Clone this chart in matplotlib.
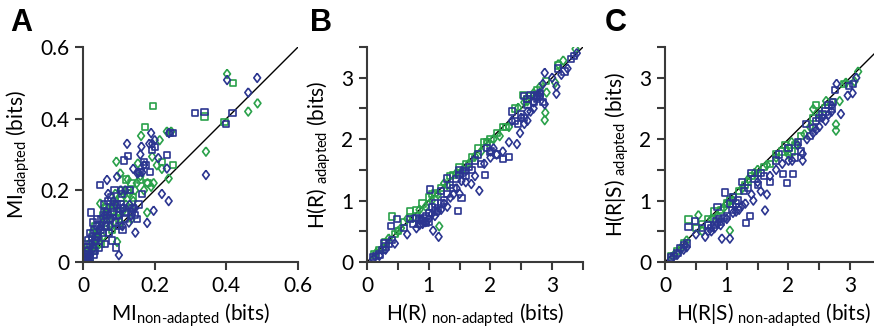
"""
Scatter adapted vs non-adapted (MI, H(R), H(R|S)), three panels.
"""
import matplotlib
matplotlib.use("Agg")
import matplotlib.pyplot as plt

BLUE = "#2b3590"
GREEN = "#2aa14a"

# ---- panel A : MI (bits) ----
a_blue_sq_x = [0.005, 0.01, 0.012, 0.018, 0.02, 0.022, 0.025, 0.03, 0.03, 0.035, 0.04, 0.045, 0.048, 0.05, 0.055,
               0.06, 0.065, 0.07, 0.075, 0.08, 0.085, 0.09, 0.093, 0.1, 0.105, 0.11, 0.115, 0.12, 0.126, 0.13,
               0.14, 0.15, 0.16, 0.165, 0.17, 0.186, 0.193, 0.2, 0.234, 0.242, 0.25, 0.313, 0.339, 0.398, 0.417,
               0.01, 0.015, 0.02, 0.028, 0.032, 0.038, 0.042, 0.05, 0.058, 0.062, 0.068, 0.072, 0.078, 0.082,
               0.088, 0.095, 0.102, 0.108, 0.112, 0.118, 0.135, 0.145, 0.155, 0.175]
a_blue_sq_y = [0.005, 0.015, 0.03, 0.01, 0.05, 0.138, 0.07, 0.02, 0.09, 0.06, 0.1, 0.04, 0.215, 0.12, 0.08,
               0.14, 0.1, 0.17, 0.12, 0.06, 0.15, 0.11, 0.04, 0.13, 0.16, 0.09, 0.283, 0.14, 0.296, 0.2,
               0.15, 0.12, 0.25, 0.19, 0.28, 0.252, 0.313, 0.32, 0.298, 0.361, 0.36, 0.415, 0.418, 0.385, 0.415,
               0.04, 0.06, 0.08, 0.11, 0.03, 0.12, 0.07, 0.09, 0.16, 0.05, 0.13, 0.08, 0.18, 0.14,
               0.2, 0.16, 0.1, 0.19, 0.15, 0.12, 0.14, 0.13, 0.16, 0.27]
a_blue_di_x = [0.005, 0.01, 0.015, 0.02, 0.03, 0.04, 0.05, 0.06, 0.067, 0.07, 0.08, 0.09, 0.095, 0.1, 0.105,
               0.11, 0.123, 0.13, 0.14, 0.146, 0.152, 0.16, 0.163, 0.17, 0.179, 0.19, 0.193, 0.197, 0.21, 0.22,
               0.234, 0.239, 0.24, 0.343, 0.402, 0.461, 0.486,
               0.008, 0.012, 0.025, 0.035, 0.045, 0.055, 0.065, 0.075, 0.085, 0.098, 0.112, 0.118, 0.128,
               0.135, 0.145, 0.155, 0.165, 0.185, 0.2]
a_blue_di_y = [0.01, 0.03, 0.005, 0.02, 0.04, 0.07, 0.1, 0.13, 0.229, 0.19, 0.12, 0.16, 0.238, 0.019, 0.2,
               0.1, 0.33, 0.16, 0.26, 0.082, 0.247, 0.3, 0.322, 0.27, 0.109, 0.36, 0.33, 0.143, 0.29, 0.19,
               0.261, 0.17, 0.36, 0.243, 0.508, 0.473, 0.514,
               0.02, 0.0, 0.05, 0.06, 0.09, 0.11, 0.14, 0.1, 0.17, 0.13, 0.15, 0.2, 0.11,
               0.13, 0.15, 0.25, 0.25, 0.33, 0.34]
a_green_sq_x = [0.005, 0.01, 0.015, 0.02, 0.025, 0.03, 0.04, 0.05, 0.06, 0.07, 0.08, 0.09, 0.1, 0.11, 0.12,
                0.13, 0.14, 0.174, 0.18, 0.195, 0.22, 0.25, 0.339, 0.395, 0.419,
                0.008, 0.018, 0.028, 0.035, 0.045, 0.055, 0.065, 0.075, 0.085, 0.095, 0.105, 0.125, 0.135, 0.16]
a_green_sq_y = [0.0, 0.02, 0.04, 0.01, 0.06, 0.03, 0.08, 0.05, 0.11, 0.14, 0.09, 0.17, 0.12, 0.2, 0.23,
                0.15, 0.18, 0.376, 0.22, 0.436, 0.28, 0.27, 0.406, 0.39, 0.499,
                0.05, 0.03, 0.08, 0.1, 0.06, 0.13, 0.15, 0.12, 0.16, 0.14, 0.18, 0.2, 0.22, 0.23]
a_green_di_x = [0.005, 0.01, 0.02, 0.03, 0.04, 0.048, 0.055, 0.06, 0.07, 0.08, 0.09, 0.093, 0.095, 0.104, 0.11,
                0.115, 0.125, 0.135, 0.15, 0.153, 0.16, 0.162, 0.179, 0.18, 0.193, 0.197, 0.206, 0.214, 0.22,
                0.234, 0.239, 0.246, 0.343, 0.402, 0.461, 0.487,
                0.015, 0.025, 0.035, 0.045, 0.065, 0.075, 0.085, 0.1, 0.105, 0.12, 0.13, 0.14, 0.145, 0.17, 0.19]
a_green_di_y = [0.01, 0.005, 0.03, 0.05, 0.08, 0.163, 0.07, 0.12, 0.15, 0.1, 0.19, 0.28, 0.056, 0.247, 0.14,
                0.187, 0.23, 0.12, 0.22, 0.275, 0.24, 0.352, 0.138, 0.22, 0.294, 0.22, 0.27, 0.34, 0.26,
                0.364, 0.233, 0.364, 0.308, 0.525, 0.42, 0.443,
                0.02, 0.04, 0.07, 0.05, 0.1, 0.13, 0.16, 0.14, 0.11, 0.16, 0.19, 0.17, 0.2, 0.2, 0.21]

# ---- panel B : H(R) (bits) ----
b_blue_sq_x = [0.1, 0.15, 0.2, 0.25, 0.27, 0.3, 0.35, 0.39, 0.4, 0.49, 0.6, 0.7, 0.75, 0.8, 0.85, 0.9, 0.95,
               1.0, 1.0, 1.02, 1.05, 1.1, 1.15, 1.2, 1.25, 1.3, 1.35, 1.4, 1.48, 1.5, 1.53, 1.55, 1.6, 1.7,
               1.75, 1.8, 1.85, 1.91, 1.95, 2.0, 2.1, 2.2, 2.3, 2.35, 2.4, 2.5, 2.55, 2.6, 2.7, 2.75, 2.8,
               2.85, 3.1, 3.2, 3.3, 3.35,
               0.85, 0.88, 0.92, 0.95, 1.1, 1.2, 1.3, 1.45, 1.5, 1.58, 1.65, 2.6, 2.65, 2.7, 2.75, 2.8, 2.55, 2.45]
b_blue_sq_y = [0.08, 0.1, 0.12, 0.2, 0.3, 0.25, 0.3, 0.58, 0.36, 0.7, 0.55, 0.7, 0.62, 0.72, 0.7, 0.66, 0.75,
               0.8, 0.65, 1.18, 0.9, 0.95, 0.88, 1.15, 1.0, 1.36, 1.25, 1.2, 0.83, 1.5, 1.04, 1.45, 1.4, 1.5,
               1.65, 1.75, 1.6, 1.42, 1.85, 1.8, 1.75, 1.68, 1.71, 2.45, 2.3, 2.4, 2.7, 2.55, 2.7, 2.65, 2.75,
               2.6, 3.15, 3.1, 3.3, 3.35,
               0.62, 0.68, 0.72, 0.64, 0.82, 0.95, 1.1, 1.35, 1.42, 1.48, 1.55, 2.65, 2.72, 2.6, 2.72, 2.68, 2.35, 2.25]
b_blue_di_x = [0.1, 0.2, 0.3, 0.45, 0.65, 0.8, 0.9, 1.0, 1.07, 1.1, 1.16, 1.2, 1.3, 1.4, 1.45, 1.5, 1.53, 1.6,
               1.69, 1.75, 1.82, 1.9, 2.0, 2.1, 2.2, 2.3, 2.43, 2.48, 2.55, 2.6, 2.65, 2.7, 2.8, 2.85, 2.88,
               2.88, 3.0, 3.07, 3.07, 3.15, 3.25, 3.4,
               0.85, 0.95, 1.05, 1.15, 1.25, 1.35, 2.0, 2.05, 2.35, 2.5, 2.6, 2.7, 2.75, 2.8]
b_blue_di_y = [0.05, 0.1, 0.2, 0.3, 0.45, 0.55, 0.62, 0.7, 0.51, 0.75, 0.41, 0.85, 0.9, 1.1, 1.2, 1.11, 1.32, 1.3,
               1.27, 1.4, 1.16, 1.6, 1.7, 1.75, 1.8, 1.95, 1.92, 2.1, 2.25, 2.3, 2.45, 2.5, 2.7, 2.9, 2.57,
               3.08, 3.0, 2.86, 2.74, 3.05, 3.15, 3.4,
               0.6, 0.65, 0.78, 0.82, 0.95, 1.05, 1.8, 1.85, 2.3, 2.35, 2.45, 2.6, 2.68, 2.75]
b_green_sq_x = [0.12, 0.2, 0.3, 0.41, 0.5, 0.6, 0.69, 0.8, 0.9, 1.0, 1.05, 1.2, 1.35, 1.5, 1.6, 1.7, 1.8, 1.9,
                2.0, 2.1, 2.25, 2.4, 2.53, 2.6, 2.75, 2.9, 3.1,
                0.45, 1.1, 1.4, 1.95, 2.2, 2.65]
b_green_sq_y = [0.12, 0.2, 0.32, 0.74, 0.5, 0.65, 0.83, 0.85, 0.95, 1.05, 1.1, 1.2, 1.4, 1.55, 1.6, 1.7, 1.85,
                1.95, 2.0, 2.1, 2.2, 2.5, 2.72, 2.65, 2.8, 2.95, 3.2,
                0.45, 1.12, 1.42, 1.95, 2.2, 2.7]
b_green_di_x = [0.15, 0.25, 0.35, 0.5, 0.65, 0.75, 0.85, 0.95, 1.05, 1.17, 1.15, 1.3, 1.45, 1.55, 1.65, 1.75,
                1.85, 1.95, 2.05, 2.15, 2.3, 2.45, 2.55, 2.7, 2.8, 2.88, 2.89, 2.91, 3.05, 3.1, 3.18, 3.38,
                0.55, 1.25, 2.6]
b_green_di_y = [0.15, 0.22, 0.38, 0.5, 0.7, 0.72, 0.85, 0.9, 1.0, 0.58, 1.1, 1.25, 1.45, 1.5, 1.6, 1.72,
                1.8, 1.95, 2.0, 2.05, 2.2, 2.51, 2.6, 2.75, 2.85, 2.31, 2.43, 2.76, 2.92, 3.22, 3.28, 3.47,
                0.55, 1.28, 2.62]

# ---- panel C : H(R|S) (bits) ----
c_blue_sq_x = [0.1, 0.15, 0.2, 0.25, 0.3, 0.35, 0.38, 0.48, 0.6, 0.7, 0.75, 0.83, 0.85, 0.9, 0.97, 1.0, 1.05,
               1.1, 1.15, 1.2, 1.25, 1.31, 1.35, 1.38, 1.4, 1.5, 1.6, 1.7, 1.8, 1.85, 1.91, 1.97, 2.0, 2.07,
               2.1, 2.2, 2.28, 2.35, 2.4, 2.45, 2.5, 2.6, 2.7, 2.75, 2.98, 3.05,
               0.8, 0.88, 0.95, 1.08, 1.18, 1.28, 1.45, 1.55, 2.15, 2.55, 2.65, 2.72]
c_blue_sq_y = [0.07, 0.1, 0.15, 0.22, 0.28, 0.3, 0.57, 0.67, 0.55, 0.6, 0.55, 0.67, 0.9, 0.65, 1.13, 0.75, 0.95,
               1.05, 0.95, 0.9, 1.3, 0.63, 1.2, 0.75, 1.45, 1.25, 1.4, 1.3, 1.65, 1.75, 1.43, 1.29, 1.85, 1.43,
               1.7, 1.8, 2.25, 2.05, 2.18, 2.3, 2.34, 2.45, 2.5, 2.8, 2.86, 2.9,
               0.6, 0.7, 0.72, 0.85, 1.0, 1.15, 1.35, 1.45, 1.95, 2.4, 2.55, 2.6]
c_blue_di_x = [0.1, 0.2, 0.3, 0.35, 0.5, 0.65, 0.7, 0.8, 0.9, 0.92, 1.0, 1.05, 1.1, 1.2, 1.3, 1.43, 1.5, 1.55,
               1.62, 1.65, 1.7, 1.8, 1.9, 2.0, 2.06, 2.15, 2.23, 2.23, 2.3, 2.4, 2.5, 2.55, 2.65, 2.7, 2.78,
               2.85, 2.96, 3.04, 3.1,
               0.75, 0.85, 1.15, 1.25, 1.4, 2.45, 2.6, 2.7]
c_blue_di_y = [0.05, 0.12, 0.2, 0.24, 0.45, 0.41, 0.5, 0.55, 0.6, 0.38, 0.7, 0.38, 0.8, 0.85, 0.95, 1.0, 1.3, 1.15,
               0.84, 1.1, 1.4, 1.5, 1.6, 1.65, 1.65, 1.9, 1.76, 1.65, 2.0, 2.1, 2.2, 2.35, 2.4, 2.55, 2.9,
               2.41, 2.71, 2.75, 3.0,
               0.5, 0.62, 0.82, 0.92, 1.1, 2.15, 2.3, 2.45]
c_green_sq_x = [0.1, 0.2, 0.3, 0.38, 0.5, 0.6, 0.7, 0.8, 0.9, 1.0, 1.1, 1.2, 1.3, 1.4, 1.5, 1.6, 1.7, 1.8, 1.9,
                2.0, 2.1, 2.2, 2.4, 2.45, 2.6, 2.7, 2.9,
                1.05, 1.35, 1.95, 2.05]
c_green_sq_y = [0.1, 0.18, 0.3, 0.69, 0.55, 0.62, 0.7, 0.82, 0.85, 0.95, 1.05, 1.15, 1.25, 1.4, 1.45, 1.55,
                1.6, 1.75, 1.8, 1.85, 1.9, 2.05, 2.35, 2.55, 2.5, 2.6, 2.9,
                1.0, 1.3, 1.9, 1.8]
c_green_di_x = [0.15, 0.25, 0.54, 0.6, 0.75, 0.85, 0.95, 1.05, 1.1, 1.25, 1.35, 1.5, 1.65, 1.8, 1.97, 2.05,
                2.13, 2.26, 2.35, 2.4, 2.5, 2.61, 2.77, 2.77, 2.83, 2.93, 3.07, 3.13,
                0.35, 1.0, 1.45, 2.0]
c_green_di_y = [0.12, 0.22, 0.76, 0.5, 0.7, 0.75, 0.88, 0.51, 1.0, 1.2, 1.35, 1.5, 1.58, 1.7, 1.81, 1.95,
                1.92, 2.08, 2.2, 2.49, 2.4, 2.62, 2.14, 2.24, 2.62, 2.92, 2.94, 3.1,
                0.35, 0.95, 1.45, 1.75]

DIAMOND = [(0, 1), (0.75, 0), (0, -1), (-0.75, 0), (0, 1)]

plt.rcParams["font.family"] = ["Lato", "DejaVu Sans"]
plt.rcParams["mathtext.fontset"] = "custom"
plt.rcParams["mathtext.rm"] = "Lato"


def panel(ax, data, lim, ticks, labels, xlabel, ylabel):
    ax.plot([0, lim], [0, lim], color="black", lw=1.0, zorder=1)
    for x, y, col, mk in data:
        if mk == "s":
            ax.scatter(x, y, s=20, marker="s", facecolors="none", edgecolors=col, linewidths=1.2, zorder=2)
        else:
            ax.scatter(x, y, s=42, marker=DIAMOND, facecolors="none", edgecolors=col, linewidths=1.2, zorder=2)
    ax.set_xlim(0, lim)
    ax.set_ylim(0, lim)
    ax.set_xticks(ticks, labels)
    ax.set_yticks(ticks, labels)
    for s in ("top", "right"):
        ax.spines[s].set_visible(False)
    for s in ("left", "bottom"):
        ax.spines[s].set_color("#3a3a3a")
        ax.spines[s].set_linewidth(1.5)
    ax.tick_params(direction="out", length=6, width=1.5, color="#3a3a3a", labelsize=15, pad=4)
    ax.set_xlabel(xlabel, fontsize=15, labelpad=4)
    ax.set_ylabel(ylabel, fontsize=15, labelpad=6)


fig = plt.figure(figsize=(8.74, 3.29), dpi=100)
axA = fig.add_axes([0.095, 0.204, 0.246, 0.653])
axB = fig.add_axes([0.420, 0.204, 0.247, 0.653])
axC = fig.add_axes([0.761, 0.204, 0.247, 0.653])

panel(axA,
      [(a_green_sq_x, a_green_sq_y, GREEN, "s"), (a_green_di_x, a_green_di_y, GREEN, "d"),
       (a_blue_sq_x, a_blue_sq_y, BLUE, "s"), (a_blue_di_x, a_blue_di_y, BLUE, "d")],
      0.6, [0, 0.2, 0.4, 0.6], ["0", "0.2", "0.4", "0.6"],
      r"MI$_{\mathrm{non\text{-}adapted}}$ (bits)", r"MI$_{\mathrm{adapted}}$ (bits)")

half_ticks = [0, 0.5, 1, 1.5, 2, 2.5, 3, 3.5]
half_labels = ["0", "", "1", "", "2", "", "3", ""]
panel(axB,
      [(b_green_sq_x, b_green_sq_y, GREEN, "s"), (b_green_di_x, b_green_di_y, GREEN, "d"),
       (b_blue_sq_x, b_blue_sq_y, BLUE, "s"), (b_blue_di_x, b_blue_di_y, BLUE, "d")],
      3.5, half_ticks, half_labels,
      r"H(R)$_{\ \mathrm{non\text{-}adapted}}$ (bits)", r"H(R)$_{\ \mathrm{adapted}}$ (bits)")
panel(axC,
      [(c_green_sq_x, c_green_sq_y, GREEN, "s"), (c_green_di_x, c_green_di_y, GREEN, "d"),
       (c_blue_sq_x, c_blue_sq_y, BLUE, "s"), (c_blue_di_x, c_blue_di_y, BLUE, "d")],
      3.5, half_ticks, half_labels,
      r"H(R|S)$_{\ \mathrm{non\text{-}adapted}}$ (bits)", r"H(R|S)$_{\ \mathrm{adapted}}$ (bits)")

for x, letter in [(0.012, "A"), (0.355, "B"), (0.692, "C")]:
    fig.text(x, 0.975, letter, fontsize=22, fontweight="bold", family=["Liberation Sans", "DejaVu Sans"],
             va="top", ha="left")

fig.savefig("out.png", dpi=100)
